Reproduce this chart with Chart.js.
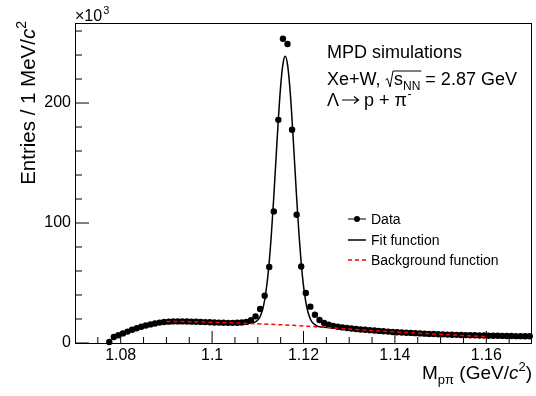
<!DOCTYPE html>
<html>
<head>
<meta charset="utf-8">
<script src="https://cdn.jsdelivr.net/npm/chart.js@4.4.1/dist/chart.umd.min.js"></script>
<style>
  html, body { margin: 0; padding: 0; background: #fff; }
  #c { display: block; }
</style>
</head>
<body>
<canvas id="c" width="536" height="396"></canvas>
<script>
// ---- data (values in units of 10^3 entries) ----
const massBins = [
  1.0775, 1.0785, 1.0795, 1.0805, 1.0815, 1.0825, 1.0835, 1.0845, 1.0855, 1.0865,
  1.0875, 1.0885, 1.0895, 1.0905, 1.0915, 1.0925, 1.0935, 1.0945, 1.0955, 1.0965,
  1.0975, 1.0985, 1.0995, 1.1005, 1.1015, 1.1025, 1.1035, 1.1045, 1.1055, 1.1065,
  1.1075, 1.1085, 1.1095, 1.1105, 1.1115, 1.1125, 1.1135, 1.1145, 1.1155, 1.1165,
  1.1175, 1.1185, 1.1195, 1.1205, 1.1215, 1.1225, 1.1235, 1.1245, 1.1255, 1.1265,
  1.1275, 1.1285, 1.1295, 1.1305, 1.1315, 1.1325, 1.1335, 1.1345, 1.1355, 1.1365,
  1.1375, 1.1385, 1.1395, 1.1405, 1.1415, 1.1425, 1.1435, 1.1445, 1.1455, 1.1465,
  1.1475, 1.1485, 1.1495, 1.1505, 1.1515, 1.1525, 1.1535, 1.1545, 1.1555, 1.1565,
  1.1575, 1.1585, 1.1595, 1.1605, 1.1615, 1.1625, 1.1635, 1.1645, 1.1655, 1.1665,
  1.1675, 1.1685, 1.1695
];
const dataEntries = [
  0.8, 5.0, 6.5, 8.0, 9.5, 11.0, 12.3, 13.5, 14.6, 15.5,
  16.3, 17.0, 17.5, 17.8, 18.0, 18.0, 18.0, 17.9, 17.8, 17.7,
  17.6, 17.4, 17.3, 17.1, 17.0, 16.9, 16.8, 16.8, 16.9, 17.1,
  17.6, 19.0, 22.2, 28.3, 39.4, 63.3, 109.7, 186.0, 253.6, 249.2,
  177.7, 106.9, 63.8, 41.7, 30.3, 23.6, 19.2, 16.7, 15.2, 14.3,
  13.6, 13.0, 12.5, 12.1, 11.7, 11.3, 11.0, 10.7, 10.4, 10.1,
  9.8, 9.5, 9.2, 9.0, 8.8, 8.6, 8.4, 8.2, 8.0, 7.8,
  7.6, 7.5, 7.3, 7.2, 7.0, 6.9, 6.8, 6.7, 6.6, 6.5,
  6.4, 6.3, 6.2, 6.1, 6.0, 6.0, 5.9, 5.8, 5.8, 5.7,
  5.7, 5.6, 5.6
];
const fitX = [
  1.090, 1.095, 1.100, 1.104, 1.106, 1.108, 1.109, 1.110, 1.1105, 1.111,
  1.1115, 1.112, 1.1125, 1.113, 1.1135, 1.114, 1.1145, 1.115, 1.1155, 1.116,
  1.1165, 1.117, 1.1175, 1.118, 1.1185, 1.119, 1.1195, 1.120, 1.1205, 1.121,
  1.1215, 1.122, 1.123, 1.124, 1.126, 1.130, 1.135, 1.140, 1.145, 1.150,
  1.155, 1.160
];
const fitY = [
  18.0, 17.8, 17.3, 16.8, 16.6, 16.5, 16.9, 19.1, 22.0, 27.2,
  35.8, 49.0, 67.6, 92.3, 121.9, 154.6, 186.7, 214.1, 232.5, 239.0,
  232.3, 213.7, 186.1, 153.8, 121.0, 91.2, 66.4, 47.6, 34.2, 25.4,
  20.0, 16.8, 14.1, 13.3, 12.7, 11.6, 10.4, 9.3, 8.2, 7.2,
  6.2, 5.2
];
const bgX = [1.090, 1.095, 1.100, 1.105, 1.110, 1.115, 1.120, 1.125, 1.130, 1.135, 1.140, 1.145, 1.150, 1.155, 1.160];
const bgY = [18.0, 17.8, 17.3, 16.7, 16.0, 15.2, 14.2, 12.9, 11.6, 10.4, 9.3, 8.2, 7.2, 6.2, 5.2];

const xMajorTicks = [1.08, 1.10, 1.12, 1.14, 1.16];
const xTickLabels = ['1.08', '1.1', '1.12', '1.14', '1.16'];
const xMinorTicks = [1.075, 1.085, 1.09, 1.095, 1.105, 1.11, 1.115, 1.125, 1.13, 1.135, 1.145, 1.15, 1.155, 1.165];
const yMajorTicks = [0, 100, 200];
const yTickLabels = ['0', '100', '200'];
const yMinorTicks = [20, 40, 60, 80, 120, 140, 160, 180, 220, 240, 260];

const FONT = '"Liberation Sans", Arial, Helvetica, sans-serif';

function pts(xs, ys) { return xs.map((x, i) => ({ x: x, y: ys[i] })); }

// ---- decorations plugin (frame, inner ticks, rich-text titles, legend, labels) ----
const decor = {
  id: 'decor',
  afterDraw(chart) {
    const ctx = chart.ctx;
    const ca = chart.chartArea;
    const xs = chart.scales.x, ys = chart.scales.y;
    ctx.save();
    // frame
    ctx.strokeStyle = '#000';
    ctx.lineWidth = 1;
    ctx.strokeRect(Math.round(ca.left) + 0.5, Math.round(ca.top) + 0.5,
                   Math.round(ca.right - ca.left) - 1, Math.round(ca.bottom - ca.top));
    // ticks inside
    ctx.beginPath();
    xMajorTicks.forEach(v => { const p = xs.getPixelForValue(v); ctx.moveTo(p, ca.bottom); ctx.lineTo(p, ca.bottom - 12); });
    xMinorTicks.forEach(v => { const p = xs.getPixelForValue(v); ctx.moveTo(p, ca.bottom); ctx.lineTo(p, ca.bottom - 6); });
    yMajorTicks.forEach(v => { const p = ys.getPixelForValue(v); ctx.moveTo(ca.left, p); ctx.lineTo(ca.left + 14, p); });
    yMinorTicks.forEach(v => { const p = ys.getPixelForValue(v); ctx.moveTo(ca.left, p); ctx.lineTo(ca.left + 7, p); });
    ctx.stroke();

    ctx.fillStyle = '#000';
    ctx.textBaseline = 'alphabetic';
    ctx.textAlign = 'left';

    // x10^3
    ctx.font = '16px ' + FONT;
    ctx.fillText('\u00d710', ca.left, 21);
    const w10 = ctx.measureText('\u00d710').width;
    ctx.font = '11px ' + FONT;
    ctx.fillText('3', ca.left + w10 + 1, 14);

    // x axis title: M_{pπ} (GeV/c^2)
    {
      const big = '19px ' + FONT, small = '13px ' + FONT, ital = 'italic 19px ' + FONT;
      const parts = [
        { t: 'M', f: big, dy: 0 },
        { t: 'p\u03c0', f: small, dy: 5 },
        { t: ' (GeV/', f: big, dy: 0 },
        { t: 'c', f: ital, dy: 0 },
        { t: '2', f: small, dy: -8 },
        { t: ')', f: big, dy: 0 }
      ];
      let total = 0;
      parts.forEach(p => { ctx.font = p.f; p.w = ctx.measureText(p.t).width; total += p.w; });
      let x = ca.right - total;
      const base = 379;
      parts.forEach(p => { ctx.font = p.f; ctx.fillText(p.t, x, base + p.dy); x += p.w; });
    }

    // y axis title: Entries / 1 MeV/c^2 (rotated)
    {
      const big = '20.5px ' + FONT, small = '14px ' + FONT, ital = 'italic 20.5px ' + FONT;
      const parts = [
        { t: 'Entries / 1 MeV/', f: big, dy: 0 },
        { t: 'c', f: ital, dy: 0 },
        { t: '2', f: small, dy: -9 }
      ];
      let total = 0;
      parts.forEach(p => { ctx.font = p.f; p.w = ctx.measureText(p.t).width; total += p.w; });
      ctx.save();
      ctx.translate(35, 21);
      ctx.rotate(-Math.PI / 2);
      let x = -total;
      parts.forEach(p => { ctx.font = p.f; ctx.fillText(p.t, x, p.dy); x += p.w; });
      ctx.restore();
    }

    // text box
    {
      const f = '18px ' + FONT, fs = '12px ' + FONT;
      const x0 = 327;
      ctx.font = f;
      ctx.fillText('MPD simulations', x0, 58);
      // line 2
      let x = x0;
      const b2 = 85;
      ctx.fillText('Xe+W,', x, b2);
      x += ctx.measureText('Xe+W, ').width;
      const ws = ctx.measureText('s').width;
      ctx.font = fs;
      const wnn = ctx.measureText('NN').width;
      // radical sign
      ctx.beginPath();
      ctx.lineWidth = 1;
      ctx.moveTo(x, b2 - 5);
      ctx.lineTo(x + 2, b2 - 6.5);
      ctx.lineTo(x + 4.5, b2 + 2);
      ctx.lineTo(x + 7.5, b2 - 14);
      ctx.lineTo(x + 8.5 + ws + wnn + 1, b2 - 14);
      ctx.stroke();
      x += 8.5;
      ctx.font = f;
      ctx.fillText('s', x, b2);
      x += ws;
      ctx.font = fs;
      ctx.fillText('NN', x, b2 + 5);
      x += wnn;
      ctx.font = f;
      ctx.fillText(' = 2.87 GeV', x, b2);
      // line 3: Λ → p + π⁻
      const b3 = 106;
      x = x0;
      ctx.font = f;
      ctx.fillText('\u039b', x, b3);
      x += ctx.measureText('\u039b').width + 3;
      // arrow drawn as line + head
      const ay = b3 - 6;
      ctx.beginPath();
      ctx.lineWidth = 1.2;
      ctx.moveTo(x, ay); ctx.lineTo(x + 16, ay);
      ctx.moveTo(x + 12, ay - 3.5); ctx.lineTo(x + 16.5, ay); ctx.lineTo(x + 12, ay + 3.5);
      ctx.stroke();
      x += 22;
      ctx.fillText('p + \u03c0', x, b3);
      x += ctx.measureText('p + \u03c0').width;
      ctx.font = fs;
      ctx.fillText('-', x + 0.5, b3 - 8);
    }

    // legend
    {
      ctx.font = '14px ' + FONT;
      ctx.textBaseline = 'middle';
      const lx0 = 348, lx1 = 366, tx = 371;
      // Data
      let y = 219;
      ctx.strokeStyle = '#000'; ctx.lineWidth = 1; ctx.setLineDash([]);
      ctx.beginPath(); ctx.moveTo(lx0, y); ctx.lineTo(lx1, y); ctx.stroke();
      ctx.beginPath(); ctx.arc((lx0 + lx1) / 2, y, 3, 0, Math.PI * 2); ctx.fill();
      ctx.fillText('Data', tx, y + 1);
      // Fit
      y = 240;
      ctx.lineWidth = 1.5;
      ctx.beginPath(); ctx.moveTo(lx0, y); ctx.lineTo(lx1, y); ctx.stroke();
      ctx.fillText('Fit function', tx, y + 1);
      // Background
      y = 260;
      ctx.strokeStyle = '#ff0000'; ctx.setLineDash([4, 3]);
      ctx.beginPath(); ctx.moveTo(lx0, y); ctx.lineTo(lx1, y); ctx.stroke();
      ctx.setLineDash([]);
      ctx.fillText('Background function', tx, y + 1);
    }
    ctx.restore();
  }
};

new Chart(document.getElementById('c'), {
  type: 'scatter',
  data: {
    datasets: [
      {
        label: 'Background function',
        data: pts(bgX, bgY),
        showLine: true,
        borderColor: '#ff0000',
        borderWidth: 1.5,
        borderDash: [4, 3],
        pointRadius: 0,
        cubicInterpolationMode: 'monotone',
        order: 0
      },
      {
        label: 'Fit function',
        data: pts(fitX, fitY),
        showLine: true,
        borderColor: '#000000',
        borderWidth: 1.5,
        pointRadius: 0,
        cubicInterpolationMode: 'monotone',
        order: 1
      },
      {
        label: 'Data',
        data: pts(massBins, dataEntries),
        showLine: false,
        pointRadius: 3.2,
        pointBackgroundColor: '#000000',
        pointBorderColor: '#000000',
        pointBorderWidth: 0,
        clip: 6,
        order: 2
      }
    ]
  },
  options: {
    responsive: false,
    animation: false,
    devicePixelRatio: 1,
    layout: { padding: { left: 0, top: 23, right: 4, bottom: 0 } },
    plugins: { legend: { display: false }, tooltip: { enabled: false } },
    scales: {
      x: {
        type: 'linear',
        min: 1.07,
        max: 1.17,
        grid: { display: false, drawTicks: false },
        border: { display: false },
        afterBuildTicks: s => { s.ticks = xMajorTicks.map(v => ({ value: v })); },
        afterFit: s => { s.height = 53; },
        ticks: {
          autoSkip: false,
          maxRotation: 0,
          padding: 3,
          color: '#000',
          font: { family: FONT, size: 16 },
          callback: (v) => { const i = xMajorTicks.findIndex(t => Math.abs(t - v) < 1e-9); return i >= 0 ? xTickLabels[i] : ''; }
        }
      },
      y: {
        type: 'linear',
        min: 0,
        max: 266.7,
        grid: { display: false, drawTicks: false },
        border: { display: false },
        afterBuildTicks: s => { s.ticks = yMajorTicks.map(v => ({ value: v })); },
        afterFit: s => { s.width = 75; },
        ticks: {
          autoSkip: false,
          padding: 4,
          color: '#000',
          font: { family: FONT, size: 16 },
          callback: (v) => { const i = yMajorTicks.indexOf(v); return i >= 0 ? yTickLabels[i] : ''; }
        }
      }
    }
  },
  plugins: [decor]
});
</script>
</body>
</html>
